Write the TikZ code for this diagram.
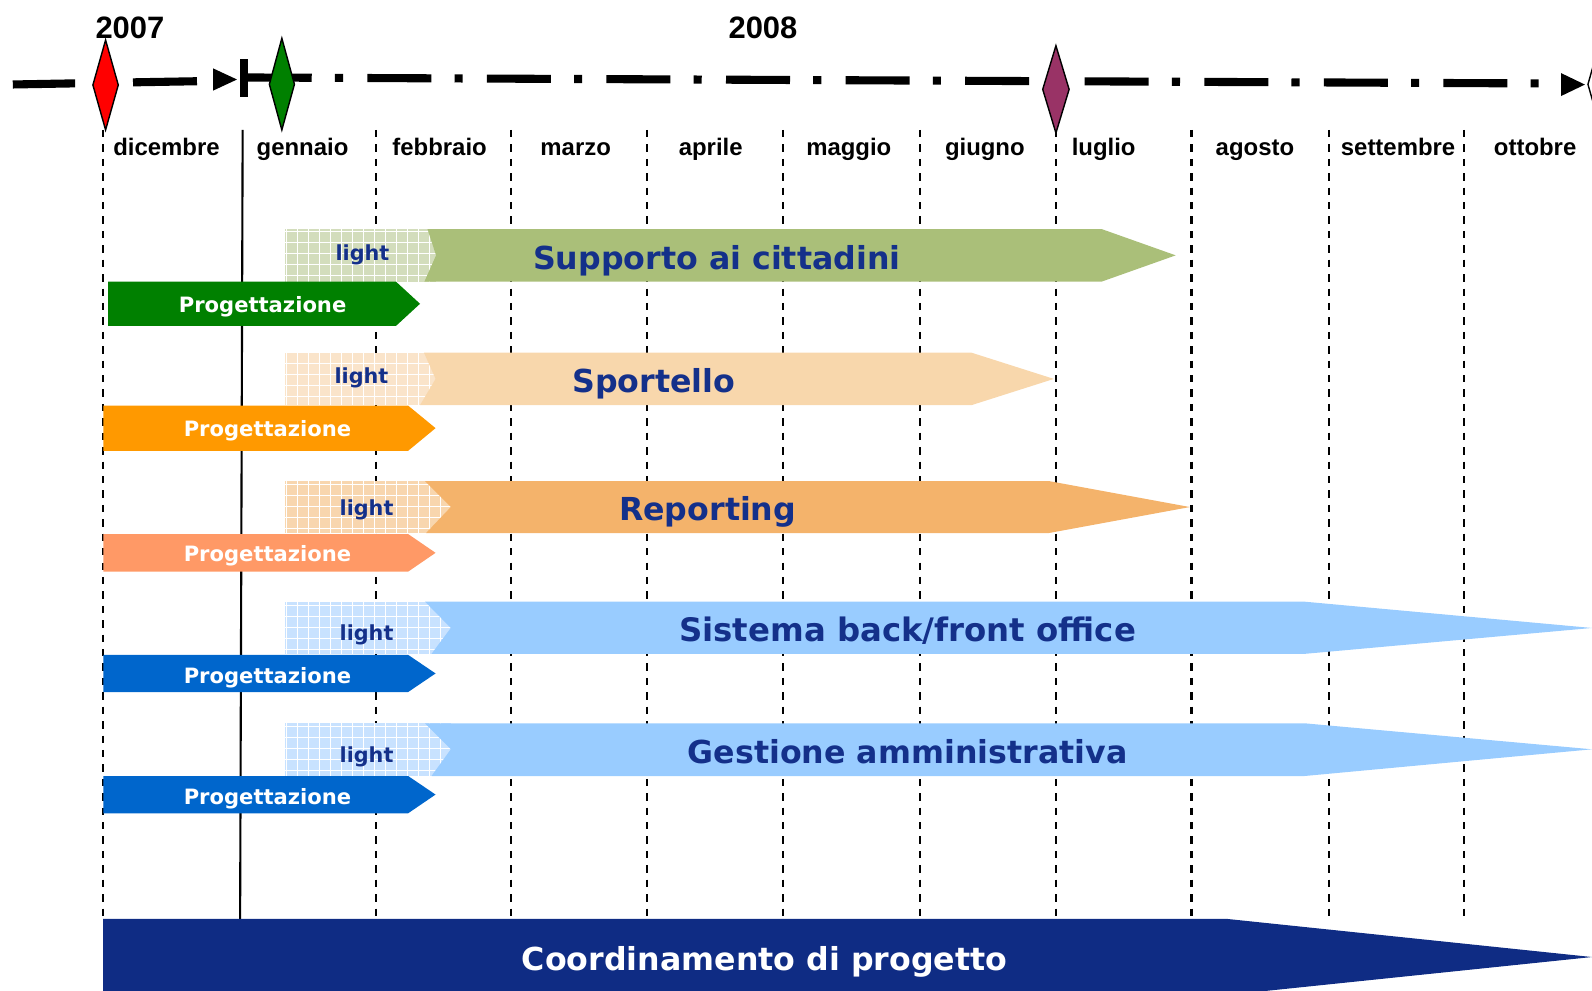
\documentclass[tikz,border=0pt]{standalone}
\usepackage{fontspec}
\setmainfont{DejaVu Sans}
\newfontfamily\axisfont{Liberation Sans}
\definecolor{navytxt}{HTML}{14308A}
\definecolor{coordbar}{HTML}{0F2C84}
\definecolor{msgreen}{HTML}{008000}
\definecolor{msplum}{HTML}{993366}
\definecolor{supMain}{HTML}{AABF79}
\definecolor{supLight}{HTML}{D3DDBC}
\definecolor{supProg}{HTML}{008000}
\definecolor{spoMain}{HTML}{F8D7AC}
\definecolor{spoLight}{HTML}{FAE4CA}
\definecolor{spoProg}{HTML}{FF9900}
\definecolor{repMain}{HTML}{F4B36B}
\definecolor{repLight}{HTML}{F8D6AE}
\definecolor{repProg}{HTML}{FF9966}
\definecolor{bluMain}{HTML}{99CCFF}
\definecolor{bluLight}{HTML}{C8E2FF}
\definecolor{bluProg}{HTML}{0066CC}
\tikzset{
  yearlbl/.style={anchor=base, font=\axisfont\bfseries\fontsize{8.8}{10}\selectfont},
  monthlbl/.style={anchor=base, font=\axisfont\bfseries\fontsize{6.8}{8}\selectfont},
  phaselbl/.style={anchor=base, text=navytxt, font=\bfseries\fontsize{9}{11}\selectfont},
  lightlbl/.style={anchor=base, text=navytxt, font=\bfseries\fontsize{5.9}{7}\selectfont},
  proglbl/.style={anchor=base, text=white, font=\bfseries\fontsize{6}{7}\selectfont},
  monthline/.style={line width=0.6pt, dash pattern=on 2.1pt off 2pt},
  axisline/.style={line width=2.3pt},
  milestone/.style={draw=black, line width=0.4pt},
  lightgrid/.style={draw=white, line width=0.3pt, step=1.1mm}
}
\begin{document}
\begin{tikzpicture}[x=0.010153cm, y=-0.010153cm]
 \useasboundingbox (0,0) rectangle (1568,976);
 \clip (0,0) rectangle (1568,976);

 \draw[monthline] (101.5,128) -- (101.5,905);
 \draw[line width=0.6pt] (239,128) -- (236.5,905);
 \draw[monthline] (370,128) -- (370,905);
 \draw[monthline] (503.5,128) -- (503.5,905);
 \draw[monthline] (637.5,128) -- (637.5,905);
 \draw[monthline] (771.5,128) -- (771.5,905);
 \draw[monthline] (906,128) -- (906,905);
 \draw[monthline] (1040,128) -- (1040,905);
 \draw[monthline] (1173.5,128) -- (1173.5,905);
 \draw[monthline] (1309,128) -- (1309,905);
 \draw[monthline] (1441.5,128) -- (1441.5,903);

 \draw[axisline] (12.6,83.2) -- (74,82.1);
 \draw[axisline] (131,81.1) -- (194,80);
 \fill (209.8,67.3) -- (233.4,78.3) -- (209.8,89.3) -- cycle;
 \draw[axisline] (240.3,58.4) -- (240.3,95.2);
 \draw[axisline, dash pattern=on 18.2pt off 6.6pt on 2.3pt off 6.9pt] (244,76.3) -- (1520,82.2);
 \fill (1537.5,72) -- (1561,83.3) -- (1537.5,94.6) -- cycle;
 \filldraw[milestone, fill=white] (1576.5,39) -- (1589,83) -- (1576.5,127) -- (1564,83) -- cycle;
 \filldraw[milestone, fill=red] (104,39.4) -- (116.5,83.7) -- (104,128) -- (91.5,83.7) -- cycle;
 \filldraw[milestone, fill=msgreen] (277.6,37.7) -- (290,83) -- (277.6,128) -- (265.3,83) -- cycle;
 \filldraw[milestone, fill=msplum] (1040,45) -- (1053,88) -- (1040,131) -- (1027,88) -- cycle;

 \node[yearlbl] (y2007) at (128,37.7) {2007};
 \node[yearlbl] (y2008) at (751.5,37.7) {2008};
 \node[monthlbl] (mdic) at (164,152.7) {dicembre};
 \node[monthlbl] (mgen) at (298,152.7) {gennaio};
 \node[monthlbl] (mfeb) at (433,152.7) {febbraio};
 \node[monthlbl] (mmar) at (567,152.7) {marzo};
 \node[monthlbl] (mapr) at (700,152.7) {aprile};
 \node[monthlbl] (mmag) at (836,152.7) {maggio};
 \node[monthlbl] (mgiu) at (970,152.7) {giugno};
 \node[monthlbl] (mlug) at (1087,152.7) {luglio};
 \node[monthlbl] (mago) at (1236,152.7) {agosto};
 \node[monthlbl] (mset) at (1377,152.7) {settembre};
 \node[monthlbl] (mott) at (1512,152.7) {ottobre};

 \fill[supLight] (280.5,225.6) rectangle (429.5,277.4);
 \draw[lightgrid] (280.5,225.6) grid (429.5,277.4);
 \fill[supMain] (421,225.6) -- (1085,225.6) -- (1158,251.5) -- (1085,277.4) -- (418,277.4) -- (429.5,251.5) -- cycle;
 \fill[supProg] (106.5,277.4) -- (390,277.4) -- (413.7,299.2) -- (390,321) -- (106.5,321) -- cycle;
 \node[lightlbl] (lsup) at (357,256.5) {light};
 \node[phaselbl] (psup) at (706,265) {Supporto ai cittadini};
 \node[proglbl] (gsup) at (258.6,308) {Progettazione};

 \fill[spoLight] (280.5,347.4) rectangle (429,399);
 \draw[lightgrid] (280.5,347.4) grid (429,399);
 \fill[spoMain] (417.6,347.4) -- (957,347.4) -- (1038,373.2) -- (957,399) -- (413.7,399) -- (429,373.2) -- cycle;
 \fill[spoProg] (101.8,399.5) -- (402,399.5) -- (429,421.7) -- (402,444) -- (101.8,444) -- cycle;
 \node[lightlbl] (lspo) at (356,378) {light};
 \node[phaselbl] (pspo) at (644,387) {Sportello};
 \node[proglbl] (gspo) at (263.5,430) {Progettazione};

 \fill[repLight] (280.5,473.8) rectangle (444,525);
 \draw[lightgrid] (280.5,473.8) grid (444,525);
 \fill[repMain] (418.6,473.8) -- (1033,473.8) -- (1172,499.4) -- (1033,525) -- (419.6,525) -- (444,499.4) -- cycle;
 \fill[repProg] (101.8,526) -- (402,526) -- (429,544.5) -- (402,563) -- (101.8,563) -- cycle;
 \node[lightlbl] (lrep) at (361,508) {light};
 \node[phaselbl] (prep) at (697,513) {Reporting};
 \node[proglbl] (grep) at (263.5,553) {Progettazione};

 \fill[bluLight] (280.5,592.6) rectangle (444,644);
 \draw[lightgrid] (280.5,592.6) grid (444,644);
 \fill[bluMain] (418.6,592.6) -- (1285,592.6) -- (1568,618.5) -- (1285,644) -- (425,644) -- (444,618.5) -- cycle;
 \fill[bluProg] (101.8,645) -- (402,645) -- (429,663.3) -- (402,681.6) -- (101.8,681.6) -- cycle;
 \node[lightlbl] (lsis) at (361,631) {light};
 \node[phaselbl, font=\bfseries\fontsize{9.2}{11}\selectfont] (psis) at (894,632) {Sistema back/front office};
 \node[proglbl] (gsis) at (263.5,673) {Progettazione};

 \fill[bluLight] (280.5,712.4) rectangle (444,764.3);
 \draw[lightgrid] (280.5,712.4) grid (444,764.3);
 \fill[bluMain] (418.6,712.4) -- (1285,712.4) -- (1568,738) -- (1285,764.3) -- (425,764.3) -- (444,738) -- cycle;
 \fill[bluProg] (101.8,764.3) -- (402,764.3) -- (429,782.6) -- (402,801) -- (101.8,801) -- cycle;
 \node[lightlbl] (lges) at (361,751) {light};
 \node[phaselbl] (pges) at (894,752) {Gestione amministrativa};
 \node[proglbl] (gges) at (263.5,792) {Progettazione};

 \fill[coordbar] (101.5,905) -- (1208,905) -- (1568,942.6) -- (1208,980) -- (101.5,980) -- cycle;
 \node[phaselbl, text=white] (coord) at (753,956) {Coordinamento di progetto};
\end{tikzpicture}
\end{document}
